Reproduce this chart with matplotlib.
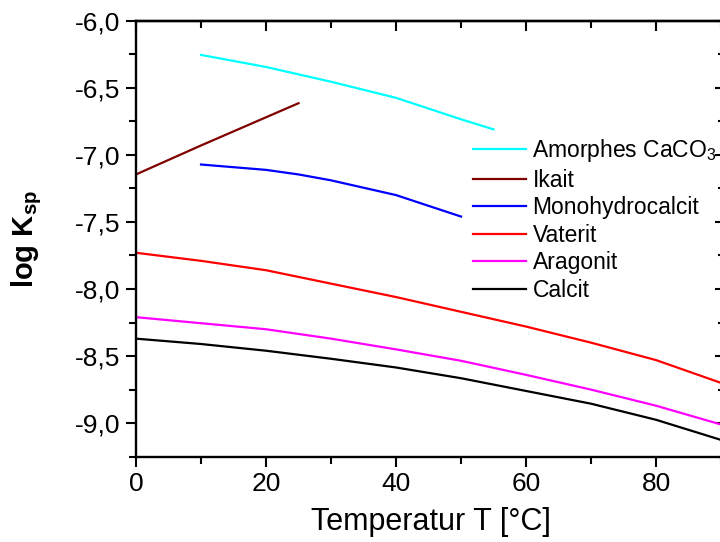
import matplotlib
matplotlib.use('Agg')
import matplotlib.pyplot as plt
from matplotlib.ticker import MultipleLocator, FuncFormatter

plt.rcParams['font.family'] = ['Liberation Sans', 'DejaVu Sans']
plt.rcParams['mathtext.fontset'] = 'custom'
plt.rcParams['mathtext.rm'] = 'Liberation Sans'
plt.rcParams['mathtext.it'] = 'Liberation Sans:italic'
plt.rcParams['mathtext.bf'] = 'Liberation Sans:bold'
plt.rcParams['mathtext.default'] = 'regular'

# Löslichkeitsprodukte der CaCO3-Phasen (log Ksp) gegen Temperatur
t_amorph = [10, 20, 30, 40, 50, 55]
k_amorph = [-6.255, -6.345, -6.455, -6.575, -6.735, -6.81]

t_ikait = [0, 10, 20, 25]
k_ikait = [-7.146, -6.93, -6.72, -6.615]

t_mono = [10, 20, 25, 30, 40, 50]
k_mono = [-7.072, -7.112, -7.146, -7.19, -7.30, -7.46]

t_voll = [0, 10, 20, 30, 40, 50, 60, 70, 80, 90]
k_vaterit = [-7.73, -7.79, -7.86, -7.96, -8.06, -8.17, -8.28, -8.40, -8.53, -8.70]
k_aragonit = [-8.21, -8.255, -8.30, -8.37, -8.45, -8.535, -8.64, -8.75, -8.87, -9.01]
k_calcit = [-8.37, -8.41, -8.46, -8.52, -8.585, -8.665, -8.76, -8.855, -8.975, -9.125]

fig = plt.figure(figsize=(7.2, 5.42), dpi=100)
ax = fig.add_axes([0.18889, 0.15738, 0.81806, 0.80443])

lw = 1.6
ax.plot(t_amorph, k_amorph, color='#00ffff', lw=lw, label='Amorphes CaCO$_3$')
ax.plot(t_ikait, k_ikait, color='#800000', lw=lw, label='Ikait')
ax.plot(t_mono, k_mono, color='#0000ff', lw=lw, label='Monohydrocalcit')
ax.plot(t_voll, k_vaterit, color='#ff0000', lw=lw, label='Vaterit')
ax.plot(t_voll, k_aragonit, color='#ff00ff', lw=lw, label='Aragonit')
ax.plot(t_voll, k_calcit, color='#000000', lw=lw, label='Calcit')

ax.set_xlim(0, 90.6)
ax.set_ylim(-9.25, -6.0)

ax.xaxis.set_major_locator(MultipleLocator(20))
ax.xaxis.set_minor_locator(MultipleLocator(10))
ax.yaxis.set_major_locator(MultipleLocator(0.5))
ax.yaxis.set_minor_locator(MultipleLocator(0.25))
ax.yaxis.set_major_formatter(FuncFormatter(lambda v, p: f'{v:.1f}'.replace('.', ',')))

for s in ax.spines.values():
    s.set_linewidth(1.7)
ax.tick_params(which='major', direction='out', length=7.2, width=1.5, labelsize=19, pad=4)
ax.tick_params(which='minor', direction='out', length=4.7, width=1.5)

# Ticks oben und rechts nach innen
top = ax.secondary_xaxis('top')
top.xaxis.set_major_locator(MultipleLocator(20))
top.xaxis.set_minor_locator(MultipleLocator(10))
top.tick_params(which='major', direction='in', length=7.2, width=1.5, labeltop=False)
top.tick_params(which='minor', direction='in', length=4.7, width=1.5)
top.spines['top'].set_linewidth(1.7)

right = ax.secondary_yaxis('right')
right.yaxis.set_major_locator(MultipleLocator(0.5))
right.yaxis.set_minor_locator(MultipleLocator(0.25))
right.tick_params(which='major', direction='in', length=7.2, width=1.5, labelright=False)
right.tick_params(which='minor', direction='in', length=4.7, width=1.5)
right.spines['right'].set_linewidth(1.7)

ax.set_xlabel('Temperatur T [°C]', fontsize=22, labelpad=8)
ax.set_ylabel(r'log K$_\mathbf{sp}$', fontsize=21, fontweight='bold', labelpad=22)

ax.legend(loc='upper left', bbox_to_anchor=(0.572, 0.733), frameon=False,
          borderaxespad=0, borderpad=0, fontsize=16.5, handlelength=2.3,
          handletextpad=0.3, labelspacing=0.2)

fig.savefig('out.png', dpi=100)
